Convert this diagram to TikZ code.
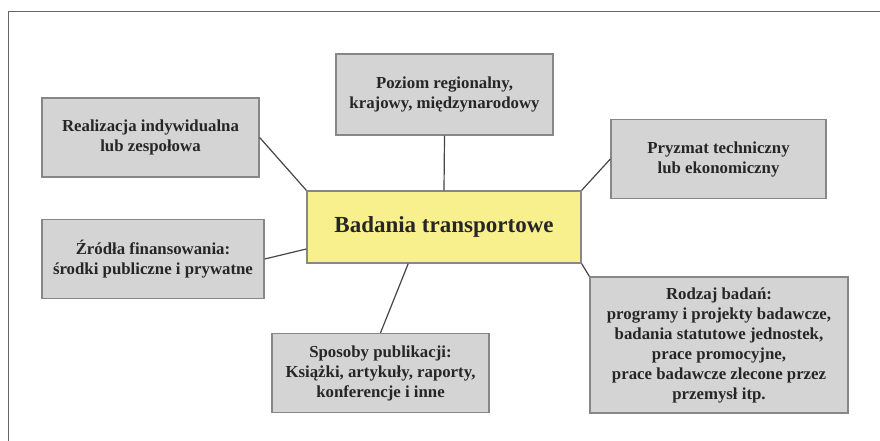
\documentclass[tikz,border=0pt]{standalone}
\usepackage{fontspec}
\setmainfont{Liberation Serif}
\usetikzlibrary{calc}
\definecolor{boxgray}{RGB}{212,212,212}
\definecolor{boxedge}{RGB}{135,135,135}
\definecolor{centeryellow}{RGB}{248,240,140}
\definecolor{linegray}{RGB}{70,70,70}
\tikzset{
  infobox/.style={draw=boxedge, line width=1.3pt, fill=boxgray, align=center, inner sep=0pt,
    font=\fontsize{16.8}{20}\selectfont\bfseries, text=black!85},
  mainbox/.style={draw=boxedge, line width=1.3pt, fill=centeryellow, align=center, inner sep=0pt,
    font=\fontsize{23}{26}\selectfont\bfseries, text=black!85},
  conn/.style={draw=linegray, line width=1.2pt},
  frame/.style={draw=black!60, line width=1pt}
}
\begin{document}
\begin{tikzpicture}[x=1pt,y=-1pt]
\useasboundingbox (0,0) rectangle (880,441);
\fill[white] (0,0) rectangle (880,441);
\coordinate (fa) at (8,441);
\coordinate (fb) at (8,12);
\coordinate (fc) at (880,12);
\draw[frame] (fa) -- (fb) -- (fc);

\node[mainbox, minimum width=274pt, minimum height=72pt] (center) at (444,227) {Badania transportowe};

\node[infobox, minimum width=217pt, minimum height=81pt] (poz) at (444.5,94.5) {Poziom regionalny,\\krajowy, międzynarodowy};
\node[infobox, minimum width=217pt, minimum height=79pt] (real) at (150.5,137.5) {Realizacja indywidualna\\lub zespołowa};
\node[infobox, minimum width=215pt, minimum height=79pt] (pry) at (718.5,159) {Pryzmat techniczny\\lub ekonomiczny};
\node[infobox, minimum width=222pt, minimum height=79pt] (zr) at (153,259) {Źródła finansowania:\\środki publiczne i prywatne};
\node[infobox, minimum width=217pt, minimum height=79pt] (spos) at (380.5,373) {Sposoby publikacji:\\Książki, artykuły, raporty,\\konferencje i inne};
\node[infobox, minimum width=258pt, minimum height=136pt] (rod) at (719,345) {Rodzaj badań:\\programy i projekty badawcze,\\badania statutowe jednostek,\\prace promocyjne,\\prace badawcze zlecone przez\\przemysł itp.};

\draw[conn] (real.east) -- (center.north west);
\draw[conn] (poz.south) -- (center.north);
\draw[conn] (pry.west) -- (center.north east);
\draw[conn] (zr.east) -- ($(center.north west)!0.8!(center.south west)$);
\draw[conn] (spos.north) -- ($(center.south west)!0.37!(center.south east)$);
\draw[conn] (center.south east) -- (rod.north west);
\end{tikzpicture}
\end{document}
